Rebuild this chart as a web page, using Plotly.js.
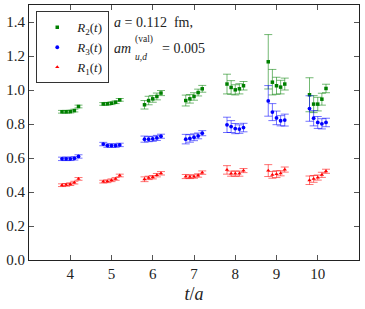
<!DOCTYPE html>
<html><head><meta charset="utf-8">
<script src="https://cdn.plot.ly/plotly-3.0.1.min.js"></script>
<style>html,body{margin:0;padding:0;background:#fff}#c{width:365px;height:309px}</style>
</head><body><div id="c"></div>
<script>
const xPos = [3.8,3.9,4.0,4.1,4.2, 4.8,4.9,5.0,5.1,5.2, 5.8,5.9,6.0,6.1,6.2, 6.8,6.9,7.0,7.1,7.2,
              7.8,7.9,8.0,8.1,8.2, 8.8,8.9,9.0,9.1,9.2, 9.8,9.9,10.0,10.1,10.2];
const r2 = [0.872,0.872,0.873,0.879,0.903, 0.918,0.919,0.922,0.928,0.942, 0.913,0.938,0.948,0.962,0.982,
            0.938,0.948,0.962,0.985,1.007, 1.035,1.015,1.001,1.007,1.025, 1.166,1.046,1.025,1.017,1.035,
            0.972,0.917,0.917,0.946,1.009];
const r2err = [0.008,0.008,0.008,0.008,0.008, 0.008,0.008,0.008,0.008,0.008, 0.025,0.025,0.02,0.02,0.015,
               0.032,0.025,0.022,0.02,0.02, 0.058,0.04,0.03,0.03,0.025, 0.16,0.075,0.05,0.04,0.035,
               0.1,0.05,0.04,0.035,0.025];
const r3 = [0.595,0.595,0.595,0.598,0.609, 0.682,0.673,0.673,0.673,0.677, 0.711,0.711,0.713,0.718,0.728,
            0.711,0.715,0.722,0.730,0.746, 0.795,0.785,0.773,0.770,0.779, 0.936,0.870,0.836,0.819,0.823,
            0.891,0.834,0.809,0.801,0.809];
const r3err = [0.01,0.01,0.01,0.01,0.01, 0.01,0.01,0.01,0.01,0.01, 0.018,0.015,0.015,0.015,0.012,
               0.028,0.022,0.02,0.017,0.015, 0.045,0.035,0.03,0.025,0.025, 0.09,0.05,0.04,0.03,0.035,
               0.075,0.045,0.035,0.03,0.025];
const r1 = [0.440,0.442,0.446,0.455,0.477, 0.461,0.463,0.469,0.477,0.497, 0.475,0.483,0.487,0.499,0.510,
            0.491,0.489,0.491,0.497,0.514, 0.530,0.508,0.508,0.508,0.526, 0.526,0.501,0.505,0.510,0.532,
            0.469,0.477,0.485,0.501,0.522];
const r1err = [0.008,0.008,0.008,0.008,0.008, 0.008,0.008,0.008,0.008,0.008, 0.014,0.01,0.01,0.01,0.01,
               0.012,0.01,0.01,0.01,0.01, 0.025,0.015,0.015,0.015,0.012, 0.035,0.02,0.02,0.015,0.015,
               0.025,0.02,0.015,0.015,0.012];
const seriesNames = ['<i>R</i><sub>2</sub>(<i>t</i>)','<i>R</i><sub>3</sub>(<i>t</i>)','<i>R</i><sub>1</sub>(<i>t</i>)'];
const xTicks = [4,5,6,7,8,9,10];
const yTicks = [0,0.2,0.4,0.6,0.8,1.0,1.2,1.4];

function tr(y, e, name, color, ecol, sym, size){
  return {x:xPos, y:y, name:name, type:'scatter', mode:'markers',
    marker:{color:color, symbol:sym, size:size},
    error_y:{type:'data', array:e, visible:true, color:ecol, thickness:1, width:4}};
}
const data = [
  tr(r2, r2err, seriesNames[0], '#008000', 'rgba(0,128,0,0.55)', 'square', 3.5),
  tr(r3, r3err, seriesNames[1], '#0000ff', 'rgba(0,0,255,0.55)', 'circle', 3.8),
  tr(r1, r1err, seriesNames[2], '#ff0000', 'rgba(255,0,0,0.55)', 'triangle-up', 3.8)
];
const F = '"Liberation Serif", "DejaVu Serif", serif';
const ax = {showline:true, linecolor:'#222', linewidth:1, mirror:'ticks', ticks:'inside', ticklen:5,
  tickcolor:'#555', showgrid:false, zeroline:false, tickfont:{family:F, size:15, color:'#222'}};
const b = 0.25;
const layout = {
  width:365, height:309, margin:{l:29, r:6, t:5, b:49},
  font:{family:F, size:14, color:'#222'},
  paper_bgcolor:'#fff', plot_bgcolor:'#fff', showlegend:true,
  xaxis:Object.assign({}, ax, {range:[3,11], tickvals:xTicks, ticktext:xTicks.map(String),
    title:{text:'<i>t</i>/<i>a</i>', font:{family:F, size:18, color:'#222'}, standoff:6}}),
  yaxis:Object.assign({}, ax, {range:[0,1.5], tickvals:yTicks, ticktext:yTicks.map(v=>v.toFixed(1))}),
  legend:{x:0.022, y:0.975, xanchor:'left', yanchor:'top', bordercolor:'#333', borderwidth:1,
    bgcolor:'#fff', font:{family:F, size:13, color:'#222'}, itemwidth:30, tracegroupgap:0},
  annotations:[
    {xref:'paper', yref:'paper', x:b, y:0.93, xanchor:'left', yanchor:'middle', showarrow:false,
     text:'<i>a</i> = 0.112  fm,', font:{family:F, size:14, color:'#222'}},
    {xref:'paper', yref:'paper', x:b, y:0.83, xanchor:'left', yanchor:'middle', showarrow:false,
     text:'<i>am</i>', font:{family:F, size:14, color:'#222'}},
    {xref:'paper', yref:'paper', x:b+0.064, y:0.865, xanchor:'left', yanchor:'middle', showarrow:false,
     text:'(val)', font:{family:F, size:9.5, color:'#222'}},
    {xref:'paper', yref:'paper', x:b+0.064, y:0.795, xanchor:'left', yanchor:'middle', showarrow:false,
     text:'<i>u,d</i>', font:{family:F, size:9.5, color:'#222'}},
    {xref:'paper', yref:'paper', x:b+0.147, y:0.83, xanchor:'left', yanchor:'middle', showarrow:false,
     text:'= 0.005', font:{family:F, size:14, color:'#222'}}
  ]
};
Plotly.newPlot('c', data, layout, {staticPlot:true, displayModeBar:false});
</script></body></html>
